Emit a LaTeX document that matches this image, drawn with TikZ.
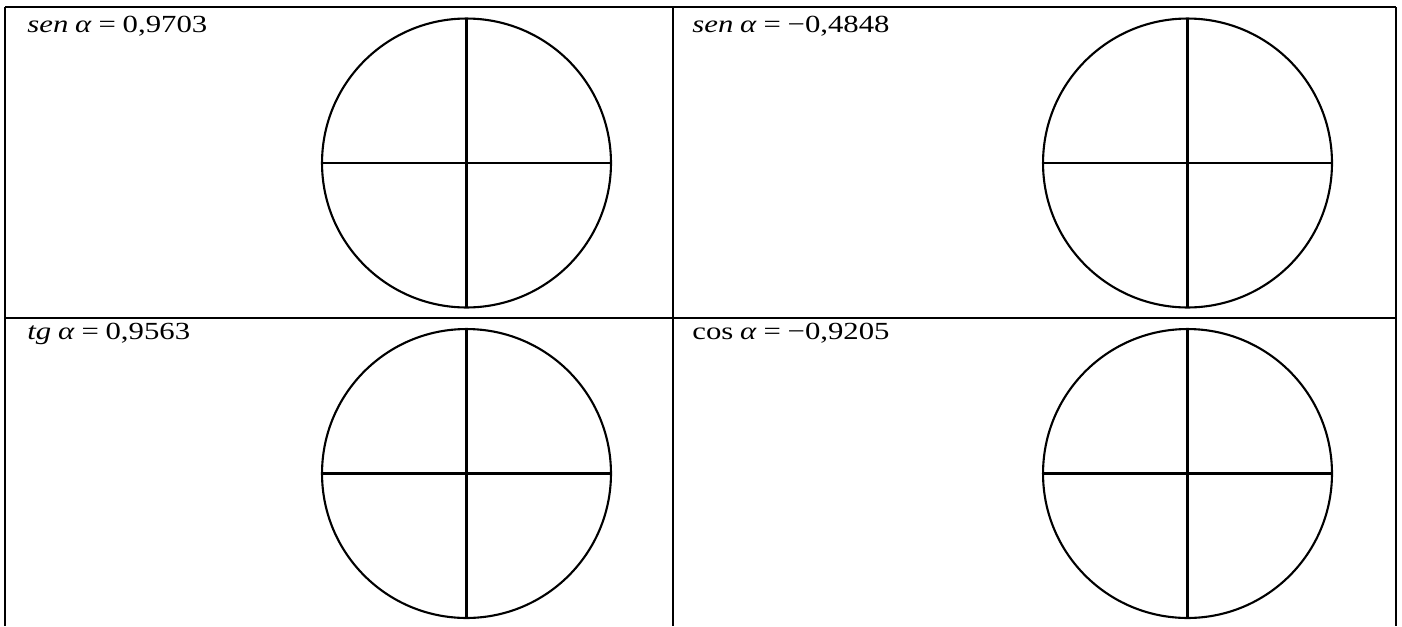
\documentclass[tikz,border=0pt]{standalone}
\usepackage{fontspec}
\setmainfont{Liberation Serif}
\usetikzlibrary{positioning}

\newcommand{\gap}{\hspace{0.22em}}

\begin{document}
\begin{tikzpicture}[x=0.02cm, y=-0.02cm,
    rule/.style={line width=1.5pt, black},
    wheel/.style={line width=1.2pt, black},
    value/.style={anchor=base west, inner sep=0pt, xscale=1.25,
      font=\fontsize{14}{16}\selectfont}]
  \useasboundingbox (0,0) rectangle (1402,626);

  % Table frame (open at the bottom)
  \draw[rule] (5,7) -- (1396,7);
  \draw[rule] (5,318) -- (1396,318);
  \draw[rule] (5,7) -- (5,626);
  \draw[rule] (673,7) -- (673,626);
  \draw[rule] (1396,7) -- (1396,626);

  % Values
  \node[value] (v1) at (27,32)  {\textit{sen}\gap\textit{α}\gap=\gap0,9703};
  \node[value] (v2) at (692,32) {\textit{sen}\gap\textit{α}\gap=\gap−0,4848};
  \node[value] (v3) at (27,339) {\textit{tg}\gap\textit{α}\gap=\gap0,9563};
  \node[value] (v4) at (692,339) {cos\gap\textit{α}\gap=\gap−0,9205};

  % Circles with axes
  \foreach \cx/\cy in {466.5/163, 1187.5/163, 466.5/473.5, 1187.5/473.5} {
    \draw[wheel] (\cx,\cy) circle (2.89cm);
    \draw[wheel] (\cx-144.5,\cy) -- (\cx+144.5,\cy);
    \draw[wheel] (\cx,\cy-144.5) -- (\cx,\cy+144.5);
  }
\end{tikzpicture}
\end{document}
